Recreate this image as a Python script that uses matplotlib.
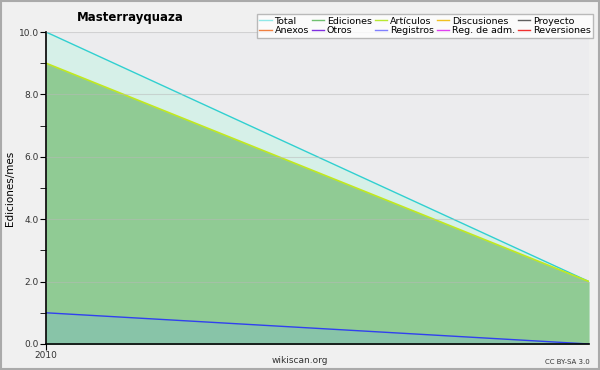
import numpy as np
import matplotlib
matplotlib.use('Agg')
import matplotlib.pyplot as plt
from matplotlib.lines import Line2D

months = [0, 1]
total = [10.0, 2.0]
ediciones = [9.0, 2.0]
articulos = [9.0, 2.0]
registros = [1.0, 0.0]

legend_names = ['Total', 'Ediciones', 'Artículos', 'Discusiones', 'Proyecto',
                'Anexos', 'Otros', 'Registros', 'Reg. de adm.', 'Reversiones']
legend_colors = ['#90e8e8', '#70c070', '#b8e830', '#f0c020', '#606060',
                 '#f08040', '#8030e0', '#8080ff', '#e040f0', '#f03030']

plt.rcParams['font.family'] = 'DejaVu Sans'
fig = plt.figure(figsize=(6, 3.7), dpi=100, facecolor='#f0f0f0')
ax = fig.add_axes([0.0767, 0.0703, 0.905, 0.8432])
ax.set_facecolor('#ececee')

ax.fill_between(months, 0, total, color='#d6f0e8', lw=0)
ax.plot(months, total, color='#30d0d0', lw=1)
ax.fill_between(months, 0, ediciones, color='#90cb94', lw=0)
ax.plot(months, articulos, color='#c0e820', lw=1.2)
ax.fill_between(months, 0, registros, color='#88c4a8', lw=0)
ax.plot(months, registros, color='#3040f0', lw=1)

ax.set_xlim(0, 1)
ax.set_ylim(0, 10)
ax.set_yticks(np.arange(0, 10.1, 2))
ax.set_yticklabels([f'{v:.1f}' for v in np.arange(0, 10.1, 2)], fontsize=6.5, color='#333333')
ax.set_yticks(np.arange(0, 10.1, 1), minor=True)
ax.set_xticks([0])
ax.set_xticklabels(['2010'], fontsize=6.5, color='#333333')
ax.tick_params(axis='x', length=4, pad=1)
ax.tick_params(axis='y', which='both', length=4, pad=1)
ax.grid(axis='y', color='#b8b8b8', lw=0.8, alpha=0.5)
ax.set_axisbelow(False)
for s in ['top', 'right']:
    ax.spines[s].set_visible(False)
ax.spines['left'].set_linewidth(1.2)
ax.spines['bottom'].set_linewidth(1.2)
ax.set_ylabel('Ediciones/mes', fontsize=7.5)
ax.yaxis.set_label_coords(-0.058, 0.5)

handles = [Line2D([0], [0], color=c, lw=1) for c in legend_colors]
order = [0, 5, 1, 6, 2, 7, 3, 8, 4, 9]
leg = fig.legend([handles[i] for i in order], [legend_names[i] for i in order],
                 ncol=5, loc='upper right', bbox_to_anchor=(0.997, 0.975),
                 fontsize=6.8, frameon=True, fancybox=False, edgecolor='#aaaaaa',
                 handlelength=1.3, handletextpad=0.3, columnspacing=0.3,
                 labelspacing=0.05, borderpad=0.3)
leg.get_frame().set_facecolor('white')

fig.text(0.217, 0.952, 'Masterrayquaza', fontsize=8.5, fontweight='bold', ha='center', va='center')
fig.text(0.5, 0.025, 'wikiscan.org', fontsize=6.5, color='#333333', ha='center', va='center')
fig.text(0.983, 0.022, 'CC BY-SA 3.0', fontsize=5, color='#333333', ha='right', va='center')

fig.patches.append(plt.Rectangle((0.002, 0.003), 0.996, 0.994, transform=fig.transFigure,
                                 fill=False, edgecolor='#aaaaaa', lw=1.5))

fig.savefig('out.png', dpi=100, facecolor=fig.get_facecolor())
